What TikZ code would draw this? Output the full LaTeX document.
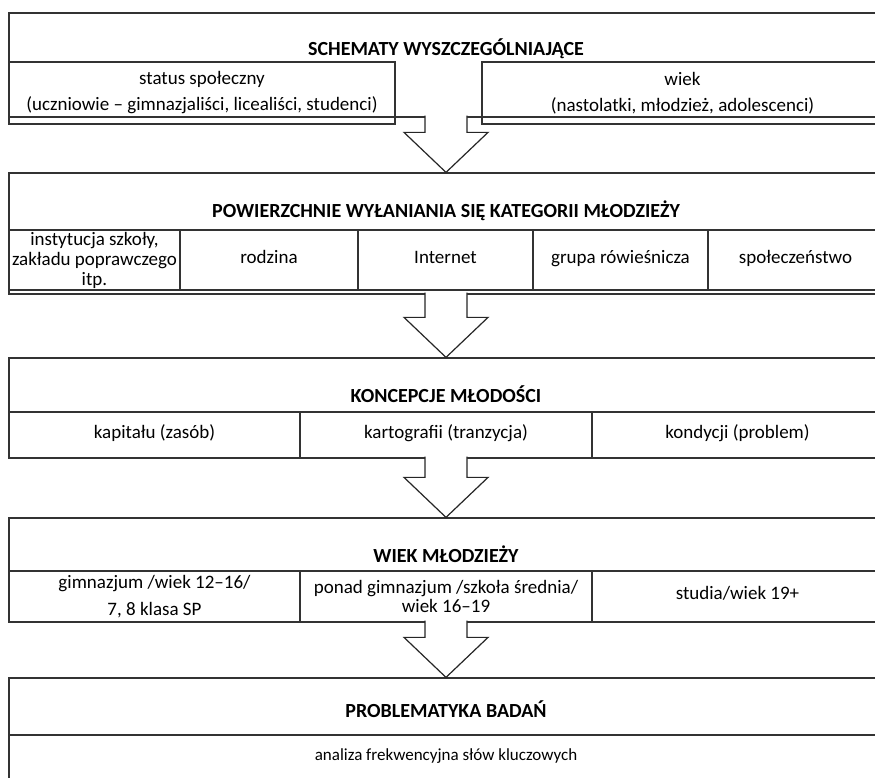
\documentclass[tikz,border=0pt]{standalone}
\usepackage{fontspec}
\setmainfont{Carlito}
\usepackage{tikz}
\usetikzlibrary{calc}
\newcommand{\blockarrow}[2]{%
\draw[blockarrow] ($(#1.south)+(-21,2)$) -- ($(#2.north)+(-21,40)$) -- ($(#2.north)+(-42,40)$) -- (#2.north) -- ($(#2.north)+(42,40)$) -- ($(#2.north)+(21,40)$) -- ($(#1.south)+(21,2)$);}

\begin{document}
\begin{tikzpicture}[x=1pt,y=1pt,font=\fontsize{19}{21}\selectfont]

\tikzstyle{frame}=[draw=black!80, line width=1.2pt, minimum width=874pt, inner sep=0pt]
\tikzstyle{cell}=[draw=black!80, line width=1.2pt, inner sep=0pt, align=center]
\tikzstyle{oneline}=[text height=12pt, text depth=5pt]
\tikzstyle{heading}=[font=\fontsize{20}{22}\selectfont\bfseries]
\tikzstyle{blockarrow}=[draw=black!85, line width=1.2pt, fill=white, line join=miter]

\useasboundingbox (0,0) rectangle (875,778);

\node[frame, minimum height=104pt] at (446, 713)   (sch) {};
\node[heading] at (446, 729)   (schT) {SCHEMATY WYSZCZEGÓLNIAJĄCE};
\node[cell, minimum width=386pt, minimum height=62pt] at (202, 685)   (status) {status społeczny\\[5pt](uczniowie – gimnazjaliści, licealiści, studenci)};
\node[cell, minimum width=401pt, minimum height=62pt] at (682.5, 685)   (wiekS) {wiek\\[5pt](nastolatki, młodzież, adolescenci)};

\node[frame, minimum height=121pt] at (446, 544.5)   (pow) {};
\node[heading] at (446, 567)   (powT) {POWIERZCHNIE WYŁANIANIA SIĘ KATEGORII MŁODZIEŻY};
\node[cell, minimum width=171pt, minimum height=60pt] at (94.5, 518)   (inst) {instytucja szkoły,\\[-1pt]zakładu poprawczego\\[-1pt]itp.};
\node[cell, oneline, minimum width=178pt, minimum height=60pt] at (269, 518)   (rodz) {rodzina};
\node[cell, oneline, minimum width=175pt, minimum height=60pt] at (445.5, 518)   (inter) {Internet};
\node[cell, oneline, minimum width=175pt, minimum height=60pt] at (620.5, 518)   (grupa) {grupa rówieśnicza};
\node[cell, oneline, minimum width=175pt, minimum height=60pt] at (795.5, 518)   (spol) {społeczeństwo};

\node[frame, minimum height=100pt] at (446, 370)   (konc) {};
\node[heading] at (446, 384)   (koncT) {KONCEPCJE MŁODOŚCI};
\node[cell, oneline, minimum width=291pt, minimum height=46pt] at (154.5, 343)   (kap) {kapitału (zasób)};
\node[cell, oneline, minimum width=292pt, minimum height=46pt] at (446, 343)   (kart) {kartografii (tranzycja)};
\node[cell, oneline, minimum width=291pt, minimum height=46pt] at (737.5, 343)   (kond) {kondycji (problem)};

\node[frame, minimum height=104pt] at (446, 208)   (wm) {};
\node[heading] at (446, 224)   (wmT) {WIEK MŁODZIEŻY};
\node[cell, minimum width=291pt, minimum height=51pt] at (154.5, 181.5)   (gimn) {gimnazjum /wiek 12–16/\\[6pt]7, 8 klasa SP};
\node[cell, minimum width=292pt, minimum height=51pt] at (446, 181.5)   (ponad) {ponad gimnazjum /szkoła średnia/\\[-2pt]wiek 16–19};
\node[cell, oneline, minimum width=291pt, minimum height=51pt] at (737.5, 181.5)   (stud) {studia/wiek 19+};

\node[frame, minimum height=101pt] at (446, 49.5)   (prob) {};
\node[heading] at (446, 69)   (probT) {PROBLEMATYKA BADAŃ};
\node[cell, oneline, minimum width=874pt, minimum height=44pt, font=\fontsize{17}{20}\selectfont] at (446, 21)   (anal) {analiza frekwencyjna słów kluczowych};

\blockarrow{sch}{pow}
\blockarrow{pow}{konc}
\blockarrow{konc}{wm}
\blockarrow{wm}{prob}

\end{tikzpicture}
\end{document}
